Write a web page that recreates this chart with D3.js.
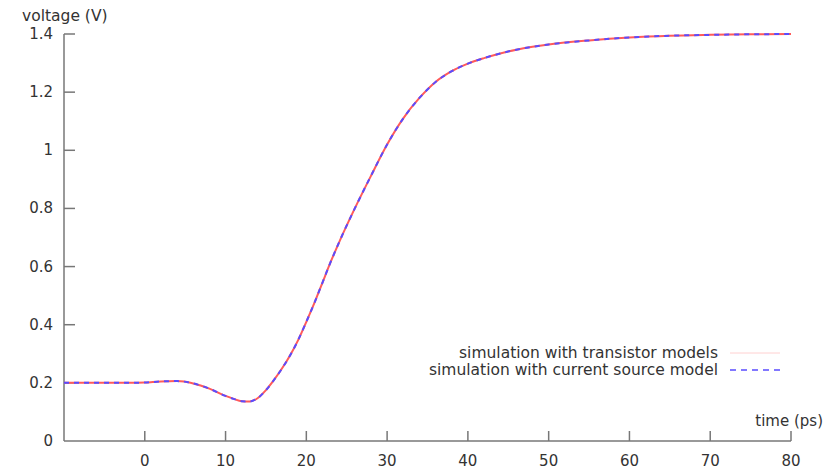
<!DOCTYPE html>
<html><head><meta charset="utf-8">
<script src="https://cdn.jsdelivr.net/npm/d3@7"></script>
<style>body{margin:0;background:#fff}svg text{font-family:"DejaVu Sans",sans-serif;fill:#333}</style>
</head><body><svg id="c" width="832" height="473"></svg>
<script>
const time = [-10,-5,-2,0,2,4,6,8,10,11,12,13,14,15,16,17,18,19,20,21,22,23,24,26,28,30,32,34,36,38,40,42,44,46,48,50,55,60,65,70,75,80];
const transistor = [0.2,0.2,0.2,0.201,0.205,0.206,0.198,0.18,0.155,0.145,0.137,0.136,0.148,0.175,0.21,0.25,0.295,0.348,0.41,0.475,0.545,0.615,0.68,0.8,0.912,1.02,1.11,1.18,1.235,1.272,1.298,1.317,1.333,1.346,1.356,1.364,1.378,1.388,1.394,1.397,1.399,1.4];
const currentSource = transistor.slice();
const xTicks = [0,10,20,30,40,50,60,70,80];
const yTicks = [0,0.2,0.4,0.6,0.8,1,1.2,1.4];
const legendLabels = ["simulation with transistor models","simulation with current source model"];

const svg = d3.select("#c");
const x = d3.scaleLinear().domain([-10,80]).range([64,791]);
const y = d3.scaleLinear().domain([0,1.4]).range([441,34]);
const axisColor = "#777";

// x axis
const gx = svg.append("g").attr("transform","translate(0,441)");
gx.append("line").attr("x1",x(-10)).attr("x2",x(80)).attr("stroke",axisColor).attr("stroke-width",1.5);
gx.selectAll("line.t").data(xTicks).join("line").attr("class","t")
  .attr("x1",d=>x(d)).attr("x2",d=>x(d)).attr("y1",0).attr("y2",-10).attr("stroke",axisColor).attr("stroke-width",1.5);
gx.selectAll("text").data(xTicks).join("text").attr("x",d=>x(d)).attr("y",25)
  .attr("text-anchor","middle").attr("font-size",15).text(d=>d);

// y axis
const gy = svg.append("g");
gy.append("line").attr("x1",64).attr("x2",64).attr("y1",y(0)).attr("y2",y(1.4)).attr("stroke",axisColor).attr("stroke-width",1.5);
gy.selectAll("line.t").data(yTicks.filter(d=>d>0)).join("line").attr("class","t")
  .attr("x1",64).attr("x2",75).attr("y1",d=>y(d)).attr("y2",d=>y(d)).attr("stroke",axisColor).attr("stroke-width",1.5);
gy.selectAll("text").data(yTicks).join("text").attr("x",53).attr("y",d=>y(d)+5)
  .attr("text-anchor","end").attr("font-size",15).text(d=>d);

svg.append("text").attr("x",22).attr("y",21).attr("font-size",15.5).text("voltage (V)");
svg.append("text").attr("x",823).attr("y",426).attr("text-anchor","end").attr("font-size",15).text("time (ps)");

const line = d3.line().x((d,i)=>x(time[i])).y(d=>y(d)).curve(d3.curveMonotoneX);
svg.append("path").datum(transistor).attr("d",line).attr("fill","none").attr("stroke","#ff5a5a").attr("stroke-width",2);
svg.append("path").datum(currentSource).attr("d",line).attr("fill","none").attr("stroke","#5a4cff").attr("stroke-width",2).attr("stroke-dasharray","5,5");

// legend
const lg = svg.append("g");
lg.selectAll("text").data(legendLabels).join("text").attr("x",718).attr("y",(d,i)=>358+i*17)
  .attr("text-anchor","end").attr("font-size",15.5).text(d=>d);
lg.append("line").attr("x1",730).attr("x2",780).attr("y1",353).attr("y2",353).attr("stroke","#ffd0d0").attr("stroke-width",1);
lg.append("line").attr("x1",730).attr("x2",780).attr("y1",370).attr("y2",370).attr("stroke","#5a4cff").attr("stroke-width",1.5).attr("stroke-dasharray","6,5");
</script></body></html>
